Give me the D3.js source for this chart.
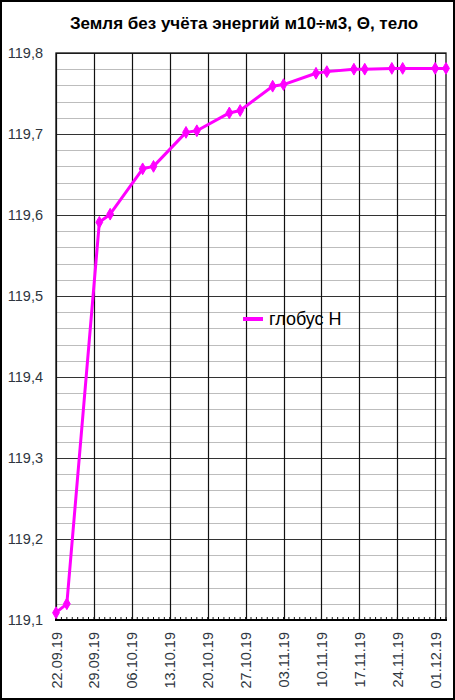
<!DOCTYPE html>
<html lang="ru">
<head>
    <meta charset="UTF-8">
    <title>Земля без учёта энергий</title>
    <script src="https://cdn.jsdelivr.net/npm/d3@7"></script>
    <style>
        body { margin: 0; background: #fff; }
        svg { display: block; font-family: Arial, "Liberation Sans", sans-serif; }
    </style>
</head>
<body>
<script>
    // data
    var dates = ["22.09.19", "24.09.19", "30.09.19", "02.10.19", "08.10.19", "10.10.19",
        "16.10.19", "18.10.19", "24.10.19", "26.10.19", "01.11.19", "03.11.19",
        "09.11.19", "11.11.19", "16.11.19", "18.11.19", "23.11.19", "25.11.19",
        "01.12.19", "03.12.19"];
    var values = [119.109, 119.120, 119.591, 119.601, 119.657, 119.660,
        119.702, 119.704, 119.726, 119.729, 119.759, 119.761,
        119.775, 119.777, 119.780, 119.780, 119.781, 119.781,
        119.781, 119.781];
    var yTicks = [119.1, 119.2, 119.3, 119.4, 119.5, 119.6, 119.7, 119.8];
    var xStart = "22.09.19", xEnd = "03.12.19";
    var seriesName = "глобус Н";
    var title = "Земля без учёта энергий м10÷м3, Θ, тело";

    var width = 455, height = 700;
    var margin = {top: 53, right: 9, bottom: 80, left: 56};

    var parse = d3.utcParse("%d.%m.%y");
    var fmt = d3.utcFormat("%d.%m.%y");
    var data = dates.map(function (d, i) { return {date: parse(d), value: values[i]}; });

    var svg = d3.select("body").append("svg")
        .attr("width", width)
        .attr("height", height);

    var x = d3.scaleUtc()
        .domain([parse(xStart), parse(xEnd)])
        .range([margin.left, width - margin.right]);
    var y = d3.scaleLinear()
        .domain([119.1, 119.8])
        .range([height - margin.bottom, margin.top]);

    // minor horizontal grid, every 0.02
    var minor = d3.range(0, 36).map(function (i) { return 119.1 + i * 0.02; });
    svg.append("g").selectAll("line")
        .data(minor)
        .join("line")
        .attr("x1", x.range()[0]).attr("x2", x.range()[1])
        .attr("y1", function (d) { return Math.round(y(d)) + 0.5; })
        .attr("y2", function (d) { return Math.round(y(d)) + 0.5; })
        .attr("stroke", "#bdbdbd")
        .attr("stroke-width", 1);

    // major horizontal grid
    svg.append("g").selectAll("line")
        .data(yTicks)
        .join("line")
        .attr("x1", x.range()[0]).attr("x2", x.range()[1])
        .attr("y1", function (d) { return Math.round(y(d)) + 0.5; })
        .attr("y2", function (d) { return Math.round(y(d)) + 0.5; })
        .attr("stroke", "#333")
        .attr("stroke-width", 1);

    // weekly vertical grid
    var weeks = d3.utcDay.range(parse(xStart), d3.utcDay.offset(parse(xEnd), 1), 7);
    svg.append("g").selectAll("line")
        .data(weeks)
        .join("line")
        .attr("x1", function (d) { return Math.round(x(d)) + 0.5; })
        .attr("x2", function (d) { return Math.round(x(d)) + 0.5; })
        .attr("y1", y.range()[1]).attr("y2", y.range()[0])
        .attr("stroke", "#111")
        .attr("stroke-width", 1.2);

    // plot frame
    svg.append("rect")
        .attr("x", x.range()[0]).attr("y", y.range()[1])
        .attr("width", x.range()[1] - x.range()[0])
        .attr("height", y.range()[0] - y.range()[1])
        .attr("fill", "none")
        .attr("stroke", "#111")
        .attr("stroke-width", 1.3);

    // daily ticks on x axis (pointing inward)
    var days = d3.utcDay.range(parse(xStart), d3.utcDay.offset(parse(xEnd), 1));
    svg.append("g").selectAll("line")
        .data(days)
        .join("line")
        .attr("x1", function (d) { return x(d); })
        .attr("x2", function (d) { return x(d); })
        .attr("y1", y.range()[0]).attr("y2", y.range()[0] - 3)
        .attr("stroke", "#111")
        .attr("stroke-width", 1);

    // thick bottom axis line
    svg.append("line")
        .attr("x1", x.range()[0] - 1).attr("x2", x.range()[1] + 1)
        .attr("y1", y.range()[0]).attr("y2", y.range()[0])
        .attr("stroke", "#000")
        .attr("stroke-width", 2);

    // y axis labels
    var yAxis = d3.axisLeft(y)
        .tickValues(yTicks)
        .tickSize(0)
        .tickPadding(13)
        .tickFormat(function (d) { return d3.format(".1f")(d).replace(".", ","); });
    svg.append("g")
        .attr("transform", "translate(" + x.range()[0] + ",0)")
        .call(yAxis)
        .call(function (g) { g.select(".domain").remove(); })
        .selectAll("text")
        .attr("font-size", "14.5px")
        .attr("font-family", "Arial, 'Liberation Sans', sans-serif")
        .attr("fill", "#2e3640");

    // x axis labels, rotated
    var xAxis = d3.axisBottom(x)
        .tickValues(weeks)
        .tickSize(0)
        .tickFormat(fmt);
    svg.append("g")
        .attr("transform", "translate(0," + y.range()[0] + ")")
        .call(xAxis)
        .call(function (g) { g.select(".domain").remove(); })
        .selectAll("text")
        .attr("font-size", "14.5px")
        .attr("font-family", "Arial, 'Liberation Sans', sans-serif")
        .attr("fill", "#2e3640")
        .attr("text-anchor", "end")
        .attr("transform", "rotate(-90)")
        .attr("x", -12)
        .attr("y", 0)
        .attr("dy", "0.35em");

    // series
    var line = d3.line()
        .x(function (d) { return x(d.date); })
        .y(function (d) { return y(d.value); });

    svg.append("path")
        .datum(data)
        .attr("fill", "none")
        .attr("stroke", "#ff00ff")
        .attr("stroke-width", 3)
        .attr("stroke-linejoin", "round")
        .attr("d", line);

    svg.append("g").selectAll("path")
        .data(data)
        .join("path")
        .attr("transform", function (d) { return "translate(" + x(d.date) + "," + y(d.value) + ")"; })
        .attr("d", d3.symbol().type(d3.symbolDiamond).size(40))
        .attr("fill", "#ff00ff")
        .attr("stroke", "#ff00ff")
        .attr("stroke-width", 1);

    // legend
    var legend = svg.append("g").attr("transform", "translate(243,319)");
    legend.append("line")
        .attr("x1", 0).attr("x2", 20)
        .attr("stroke", "#ff00ff")
        .attr("stroke-width", 4);
    legend.append("text")
        .attr("x", 26)
        .attr("dy", "0.35em")
        .attr("font-size", "18px")
        .attr("fill", "#000")
        .text(seriesName);

    // title
    svg.append("text")
        .attr("x", 244)
        .attr("y", 29)
        .attr("text-anchor", "middle")
        .attr("font-size", "17px")
        .attr("font-weight", "bold")
        .attr("fill", "#000")
        .text(title);

    // outer frame
    svg.append("rect")
        .attr("x", 1).attr("y", 1)
        .attr("width", width - 2).attr("height", height - 2)
        .attr("fill", "none")
        .attr("stroke", "#000")
        .attr("stroke-width", 2);
</script>
</body>
</html>
